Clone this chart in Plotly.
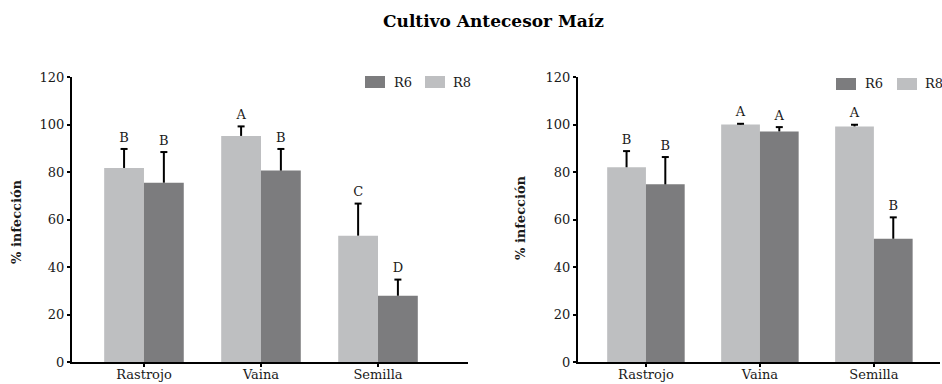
import plotly.graph_objects as go

# ---------------- data ----------------
categories = ["Rastrojo", "Vaina", "Semilla"]
y_ticks = [0, 20, 40, 60, 80, 100, 120]

# Left panel
left_r8 = [81.7, 95.2, 53.2]
left_r8_err = [8.0, 4.0, 13.5]
left_r8_letters = ["B", "A", "C"]
left_r6 = [75.5, 80.6, 27.9]
left_r6_err = [12.9, 9.1, 6.8]
left_r6_letters = ["B", "B", "D"]

# Right panel
right_r8 = [82.0, 100.0, 99.2]
right_r8_err = [6.8, 0.3, 0.7]
right_r8_letters = ["B", "A", "A"]
right_r6 = [74.8, 97.1, 51.9]
right_r6_err = [11.5, 1.8, 9.0]
right_r6_letters = ["B", "A", "B"]

title_text = "Cultivo Antecesor Maíz"
y_title = "% infección"
series_names = ["R6", "R8"]

# ---------------- styles ----------------
W, H = 942, 384
TOP, BOT = 77, 362
LIGHT = "#bebfc1"
DARK = "#7c7c7e"
FONT = "DejaVu Serif"
TXT = "#1a1a1a"
BAR_W = 0.34

def px_x(p):
    return p / W

def px_y(p):
    return (BOT - p) / (BOT - TOP)

fig = go.Figure()

panels = [
    ("x", "y", left_r8, left_r8_err, left_r8_letters, left_r6, left_r6_err, left_r6_letters),
    ("x2", "y2", right_r8, right_r8_err, right_r8_letters, right_r6, right_r6_err, right_r6_letters),
]

for xa, ya, r8, r8e, r8l, r6, r6e, r6l in panels:
    idx = list(range(len(categories)))
    for vals, errs, letters, color, off, name in [
        (r8, r8e, r8l, LIGHT, -BAR_W / 2, "R8"),
        (r6, r6e, r6l, DARK, BAR_W / 2, "R6"),
    ]:
        xs = [i + off for i in idx]
        fig.add_trace(go.Bar(
            x=xs, y=vals, width=BAR_W, marker=dict(color=color, line=dict(width=0)),
            name=name, showlegend=False, xaxis=xa, yaxis=ya,
            error_y=dict(type="data", symmetric=False, array=errs,
                         arrayminus=[0] * len(errs), width=0, thickness=2, color="black"),
        ))
        tops = [v + e for v, e in zip(vals, errs)]
        fig.add_trace(go.Scatter(
            x=xs, y=tops, mode="markers+text", text=letters, textposition="top center",
            textfont=dict(family=FONT, size=13, color=TXT),
            marker=dict(symbol="line-ew", size=5, color="black",
                        line=dict(width=2, color="black")),
            showlegend=False, hoverinfo="skip", xaxis=xa, yaxis=ya,
        ))

axis_common = dict(showline=True, linewidth=2, linecolor="black", ticks="outside",
                   ticklen=3, tickwidth=2, tickcolor="black", showgrid=False,
                   zeroline=False, tickfont=dict(family=FONT, size=13, color=TXT))

fig.update_layout(
    width=W, height=H, barmode="overlay",
    margin=dict(l=0, r=0, t=TOP, b=H - BOT, autoexpand=False),
    paper_bgcolor="white", plot_bgcolor="white",
    xaxis=dict(domain=[px_x(72), px_x(468)], range=[-0.615, 2.769],
               tickvals=[0, 1, 2], ticktext=categories, ticklabelstandoff=-4, **axis_common),
    yaxis=dict(domain=[0, 1], range=[0, 120], tickvals=y_ticks, **axis_common),
    xaxis2=dict(domain=[px_x(578), px_x(940)], range=[-0.596, 2.58], anchor="y2",
                tickvals=[0, 1, 2], ticktext=categories, ticklabelstandoff=-4, **axis_common),
    yaxis2=dict(domain=[0, 1], range=[0, 120], tickvals=y_ticks, anchor="x2", **axis_common),
    showlegend=False,
)

annotations = [
    dict(text="<b>%s</b>" % title_text, x=px_x(493), y=px_y(21), xref="paper", yref="paper",
         showarrow=False, xanchor="center", yanchor="middle",
         font=dict(family=FONT, size=17, color="black")),
    dict(text="<b>%s</b>" % y_title, x=px_x(16), y=px_y(222), xref="paper", yref="paper",
         showarrow=False, textangle=-90, xanchor="center", yanchor="middle",
         font=dict(family=FONT, size=13, color=TXT)),
    dict(text="<b>%s</b>" % y_title, x=px_x(520), y=px_y(218), xref="paper", yref="paper",
         showarrow=False, textangle=-90, xanchor="center", yanchor="middle",
         font=dict(family=FONT, size=13, color=TXT)),
]

shapes = []
# manual legends: (swatch_x0, text_x) pairs for R6 and R8, and y range
legend_specs = [
    ([(365, 392), (425, 451)], (76, 88)),
    ([(836, 863), (897, 923)], (78, 90)),
]
for items, (yt, yb) in legend_specs:
    for (sx, tx), name, color in zip(items, series_names, [DARK, LIGHT]):
        shapes.append(dict(type="rect", xref="paper", yref="paper",
                           x0=px_x(sx), x1=px_x(sx + 20), y0=px_y(yb), y1=px_y(yt),
                           fillcolor=color, line=dict(width=0)))
        annotations.append(dict(text=name, x=px_x(tx), y=px_y((yt + yb) / 2),
                                xref="paper", yref="paper", showarrow=False,
                                xanchor="left", yanchor="middle",
                                font=dict(family=FONT, size=13, color=TXT)))

fig.update_layout(annotations=annotations, shapes=shapes)

fig.write_html("out.html")
